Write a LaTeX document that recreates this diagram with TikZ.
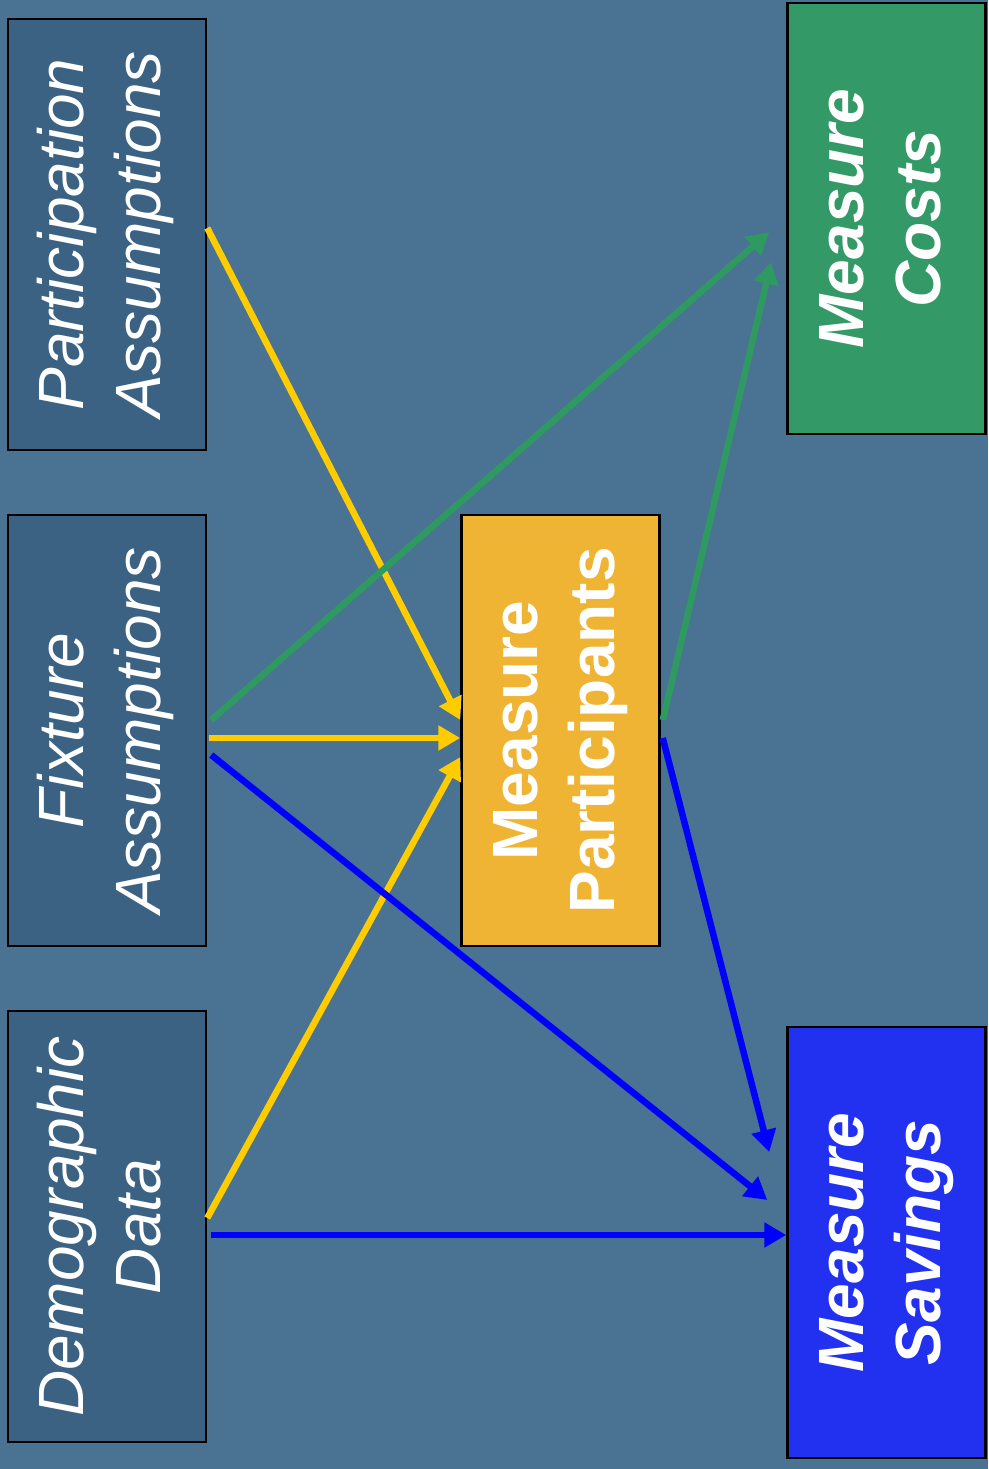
\documentclass[tikz,border=0pt]{standalone}
\usepackage{fontspec}
\setmainfont{Liberation Sans}
\setsansfont{Liberation Sans}
\usetikzlibrary{arrows.meta}
\definecolor{bg}{HTML}{4A7292}
\definecolor{slate}{HTML}{3C6283}
\definecolor{orangebox}{HTML}{F0B434}
\definecolor{greenbox}{HTML}{339966}
\definecolor{bluebox}{HTML}{2230F0}
\definecolor{yarrow}{HTML}{FFCC00}
\definecolor{garrow}{HTML}{2E9A62}
\definecolor{barrow}{HTML}{0000FF}
\newcommand{\bigfont}{\fontsize{64}{77}\selectfont}
\newcommand{\twolines}[2]{\rotatebox{90}{\begin{tabular}{@{}c@{}}#1\\#2\end{tabular}}}
\tikzset{
  box/.style={draw=black, line width=2.5pt, minimum width=198pt, minimum height=431pt, inner sep=0pt, text=white},
  inbox/.style={box, fill=slate, font=\bigfont\itshape},
  conn/.style={line width=6.5pt, -{Triangle[length=22pt,width=24pt]}},
}
\begin{document}
\begin{tikzpicture}[x=1pt,y=-1pt]
\fill[bg] (0,0) rectangle (988,1469);
\useasboundingbox (0,0) rectangle (988,1469);
% input boxes
\node[inbox] (pa) at (107,234.5) {\twolines{Participation}{Assumptions}};
\node[inbox] (fa) at (107,730.5) {\twolines{Fixture}{Assumptions}};
\node[inbox] (da) at (107,1226.5) {\twolines{Demographic}{Data}};
% middle
\node[box, fill=orangebox, font=\bigfont\bfseries] (mp) at (560.5,730.5) {\twolines{Measure}{Participants}};
% outputs
\node[box, fill=greenbox, font=\bigfont\bfseries\itshape] (mc) at (886.5,218.5) {\twolines{Measure}{Costs}};
\node[box, fill=bluebox, font=\bigfont\bfseries\itshape] (ms) at (886.5,1242.5) {\twolines{Measure}{Savings}};
% yellow
\draw[conn, yarrow] ([yshift=6.5pt]pa.east) -- ([yshift=10.5pt]mp.west);
\draw[conn, yarrow] ([xshift=2pt,yshift=-7.5pt]fa.east) -- ([yshift=-7.5pt]mp.west);
\draw[conn, yarrow] ([yshift=8.5pt]da.east) -- ([yshift=-26.5pt]mp.west);
% green
\draw[conn, garrow] ([xshift=4pt,yshift=10.5pt]fa.east) -- ([xshift=-17pt,yshift=-13.5pt]mc.west);
\draw[conn, garrow] ([xshift=2pt,yshift=10.5pt]mp.east) -- ([xshift=-15pt,yshift=-43.5pt]mc.west);
% blue
\draw[conn, barrow] ([xshift=2pt,yshift=-7.5pt]mp.east) -- ([xshift=-17pt,yshift=90.5pt]ms.west);
\draw[conn, barrow] ([xshift=4pt,yshift=-24.5pt]fa.east) -- ([xshift=-19pt,yshift=42.5pt]ms.west);
\draw[conn, barrow] ([xshift=4pt,yshift=-8.5pt]da.east) -- ([yshift=7.5pt]ms.west);
\end{tikzpicture}
\end{document}
